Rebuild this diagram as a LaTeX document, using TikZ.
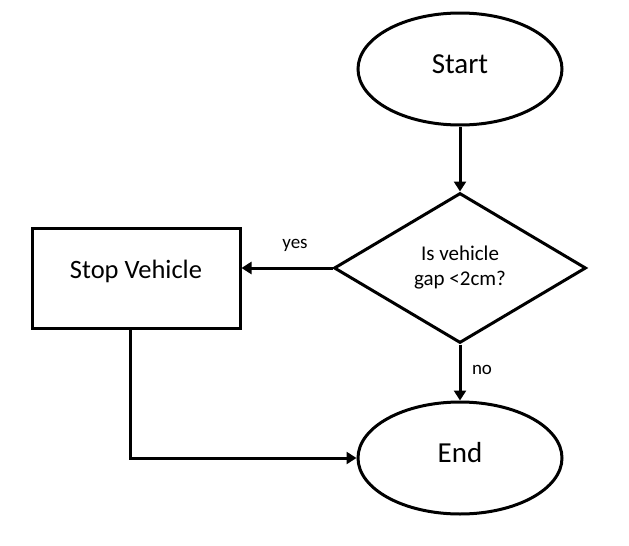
\documentclass[tikz,border=0pt]{standalone}
\usepackage{fontspec}
\setmainfont{Carlito}
\usetikzlibrary{shapes.geometric,arrows.meta}

\begin{document}
\begin{tikzpicture}[x=1pt, y=-1pt, line width=3pt,
  >={Triangle[length=10pt,width=12pt]},
  terminal/.style={draw, ellipse, minimum width=204pt, minimum height=112pt,
    inner sep=0pt, text height=20pt, text depth=12pt,
    font=\fontsize{29}{34}\selectfont},
  decision/.style={draw, diamond, aspect=1.68, minimum width=252pt,
    minimum height=150pt, inner sep=0pt, align=center,
    font=\fontsize{21}{25}\selectfont},
  process/.style={draw, rectangle, minimum width=208pt, minimum height=100pt,
    inner sep=0pt, text height=19pt, text depth=19pt,
    font=\fontsize{26.5}{31}\selectfont},
  edgelabel/.style={font=\fontsize{19}{23}\selectfont}]
\useasboundingbox (0,0) rectangle (629,546);
\node[terminal] (start) at (460,69) {Start};
\node[decision] (gap) at (460,268) {Is vehicle\\gap <2cm?};
\node[process] (stop) at (136,278) {Stop Vehicle};
\node[terminal] (end) at (460,458) {End};
\node[edgelabel] (yes) at (295,245) {yes};
\node[edgelabel] (no) at (482,370) {no};

\draw[->] (start.south) -- (gap.north);
\draw[->] (gap.west) -- (gap.west -| stop.east);
\draw[->] (gap.south) -- (end.north);
\draw[->] ([xshift=-6pt]stop.south) |- (end.west);
\end{tikzpicture}
\end{document}
